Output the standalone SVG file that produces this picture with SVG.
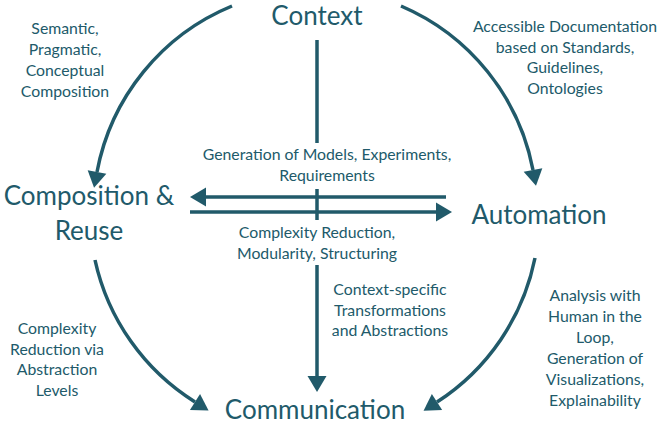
<svg xmlns="http://www.w3.org/2000/svg" width="664" height="425" viewBox="0 0 664 425">
<style>
.t{font-family:Lato,"Open Sans","Liberation Sans",sans-serif;fill:#215a6a;text-anchor:middle}
.big{font-size:26px}
.sm{font-size:15.8px}
.ln{fill:none;stroke:#215a6a;stroke-width:3.5}
</style>
<defs>
<marker id="ah" markerUnits="userSpaceOnUse" markerWidth="17" markerHeight="20" refX="0" refY="9.5" orient="auto" overflow="visible">
<path d="M0,0 L16,9.5 L0,19 Z" fill="#215a6a"/>
</marker>
</defs>
<rect width="664" height="425" fill="#fff"/>
<g id="connectors">
<path class="ln" d="M232,6 A224,224 0 0 0 97,172" marker-end="url(#ah)"/>
<path class="ln" d="M401,6 A224,224 0 0 1 533,170" marker-end="url(#ah)"/>
<path class="ln" d="M95,260 A224,224 0 0 0 195,402" marker-end="url(#ah)"/>
<path class="ln" d="M535,258 A224,224 0 0 1 437,402" marker-end="url(#ah)"/>
<path class="ln" d="M446,197 L206,197" marker-end="url(#ah)"/>
<path class="ln" d="M190,212 L436,212" marker-end="url(#ah)"/>
<path class="ln" d="M317,40 L317,143"/>
<path class="ln" d="M317,189 L317,220"/>
<path class="ln" d="M317,265 L317,376" marker-end="url(#ah)"/>
</g>
<g id="context"><text class="t big" x="317" y="25">Context</text></g>
<g id="composition"><text class="t big" x="89" y="205">Composition &amp;</text><text class="t big" x="89" y="240">Reuse</text></g>
<g id="automation"><text class="t big" x="539" y="224">Automation</text></g>
<g id="communication"><text class="t big" x="315" y="419">Communication</text></g>
<g id="label-tl" class="t sm"><text x="65" y="34">Semantic,</text><text x="65" y="55">Pragmatic,</text><text x="65" y="76">Conceptual</text><text x="65" y="97">Composition</text></g>
<g id="label-tr" class="t sm"><text x="565" y="32">Accessible Documentation</text><text x="565" y="52.7">based on Standards,</text><text x="565" y="73.4">Guidelines,</text><text x="565" y="94">Ontologies</text></g>
<g id="label-bl" class="t sm"><text x="57" y="334">Complexity</text><text x="57" y="354.5">Reduction via</text><text x="57" y="375">Abstraction</text><text x="57" y="395.5">Levels</text></g>
<g id="label-br" class="t sm"><text x="595" y="301">Analysis with</text><text x="595" y="322">Human in the</text><text x="595" y="343">Loop,</text><text x="595" y="364">Generation of</text><text x="595" y="385">Visualizations,</text><text x="595" y="406">Explainability</text></g>
<g id="label-gen" class="t sm"><text x="327" y="160">Generation of Models, Experiments,</text><text x="327" y="181">Requirements</text></g>
<g id="label-cx" class="t sm"><text x="317" y="238">Complexity Reduction,</text><text x="317" y="258.5">Modularity, Structuring</text></g>
<g id="label-cs" class="t sm"><text x="390" y="295">Context-specific</text><text x="390" y="315.5">Transformations</text><text x="390" y="336">and Abstractions</text></g>
</svg>
